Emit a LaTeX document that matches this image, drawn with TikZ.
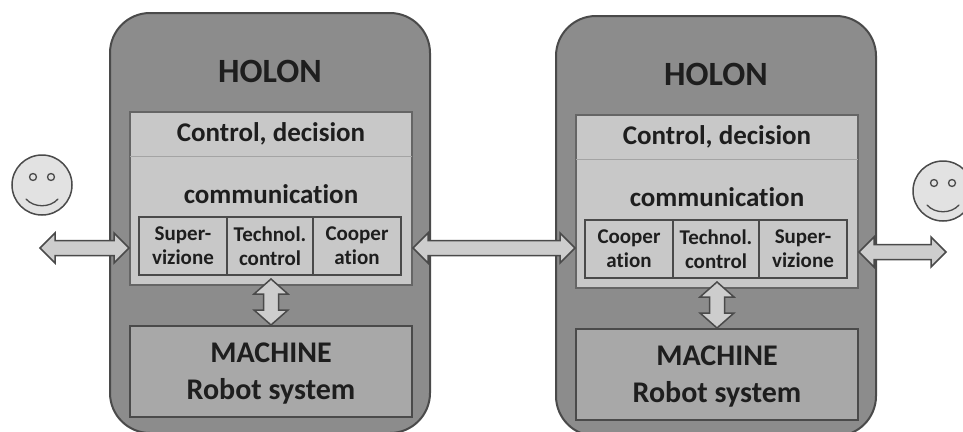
\documentclass[tikz,border=0pt]{standalone}
\usepackage{fontspec}
\setmainfont{Carlito}[Ligatures=CommonOff]
\usepackage{tikz}
\usetikzlibrary{calc}
\definecolor{edge}{HTML}{4A4A4A}
\definecolor{holongray}{HTML}{8C8C8C}
\definecolor{ctrlgray}{HTML}{C8C8C8}
\definecolor{machgray}{HTML}{A8A8A8}
\definecolor{arrowgray}{HTML}{CDCDCD}
\definecolor{facegray}{HTML}{E2E2E2}
\definecolor{divgray}{HTML}{A4A4A4}
\definecolor{ink}{HTML}{1E1E1E}
\tikzstyle{holon}=[rectangle,rounded corners=40pt,draw=edge,fill=holongray,line width=2pt,minimum width=320pt,minimum height=420pt,inner sep=0pt]
\tikzstyle{ctrl}=[rectangle,draw=edge!85,fill=ctrlgray,line width=2pt,minimum width=282pt,minimum height=173pt,inner sep=0pt]
\tikzstyle{band}=[rectangle,minimum width=282pt,minimum height=44pt,inner sep=0pt,font=\fontsize{27}{32}\selectfont\bfseries]
\tikzstyle{sub}=[rectangle,draw=edge,fill=ctrlgray,line width=1.6pt,minimum height=58pt,inner sep=0pt,align=center,font=\fontsize{21}{24}\selectfont\bfseries]
\tikzstyle{machine}=[rectangle,draw=edge,fill=machgray,line width=2pt,minimum width=282pt,minimum height=91pt,inner sep=0pt,align=center,text depth=0pt,font=\fontsize{30}{37}\selectfont\bfseries]
\tikzstyle{title}=[anchor=base,font=\fontsize{34}{40}\selectfont\bfseries]
\tikzstyle{face}=[circle,draw=edge,fill=facegray,line width=1.5pt,minimum size=60pt,inner sep=0pt]
\tikzset{every node/.style={text=ink},
  fat/.style={draw=edge,fill=arrowgray,line width=1.5pt,line join=miter,
    to path={let \p1=(\tikztostart), \p2=(\tikztotarget) in
      (\p1) -- ($(\p1)!15pt!(\p2)!#1!90:(\p2)$) -- ($(\p1)!15pt!(\p2)!7.5pt!90:(\p2)$)
      -- ($(\p2)!15pt!(\p1)!7.5pt!-90:(\p1)$) -- ($(\p2)!15pt!(\p1)!#1!-90:(\p1)$)
      -- (\p2) -- ($(\p2)!15pt!(\p1)!#1!90:(\p1)$) -- ($(\p2)!15pt!(\p1)!7.5pt!90:(\p1)$)
      -- ($(\p1)!15pt!(\p2)!7.5pt!-90:(\p2)$) -- ($(\p1)!15pt!(\p2)!#1!-90:(\p2)$) -- cycle}},
  fat/.default=15pt
}

\begin{document}
\begin{tikzpicture}[x=1pt,y=-1pt]
    \useasboundingbox (0,0) rectangle (963,431);
    % left holon
    \node[holon] at (270,223) (holonL) {};
    \node[title] at (270,82) (titleL) {HOLON};
    \node[ctrl] at (271,198.5) (ctrlL) {};
    \node[band] at (271,134) (decL) {Control, decision};
    \draw[divgray,line width=1pt] (decL.south west) -- (decL.south east);
    \node[band,anchor=base] at (271,203) (commL) {communication};
    \node[sub,minimum width=88pt] at (183,246) (supL) {Super-\\vizione};
    \node[sub,minimum width=86pt] at (270,246) (tecL) {Technol.\\control};
    \node[sub,minimum width=88pt] at (357,246) (cooL) {Cooper\\ation};
    \node[machine] at (271,371.5) (machL) {MACHINE\\Robot system};
    % right holon
    \node[holon] at (716,226) (holonR) {};
    \node[title] at (716,85) (titleR) {HOLON};
    \node[ctrl] at (717,201.5) (ctrlR) {};
    \node[band] at (717,137) (decR) {Control, decision};
    \draw[divgray,line width=1pt] (decR.south west) -- (decR.south east);
    \node[band,anchor=base] at (717,206) (commR) {communication};
    \node[sub,minimum width=88pt] at (629,249) (cooR) {Cooper\\ation};
    \node[sub,minimum width=86pt] at (716,249) (tecR) {Technol.\\control};
    \node[sub,minimum width=88pt] at (803,249) (supR) {Super-\\vizione};
    \node[machine] at (717,374.5) (machR) {MACHINE\\Robot system};
    % operators
    \node[face] at (42,185) (smileL) {};
    \node[face] at (943,191) (smileR) {};
    \foreach \s in {smileL,smileR}{
      \begin{scope}[shift={(\s.center)},draw=edge,line width=1.3pt]
        \draw[fill=facegray] (-9,-8) circle (3.5);
        \draw[fill=facegray] (9,-8) circle (3.5);
        \draw[line cap=round] (-16,14) .. controls (-8,23) and (8,23) .. (16,14);
      \end{scope}
    }
    % links
    \coordinate (farL) at (40,248);
    \coordinate (farR) at (946,252);
    \draw[fat] (farL) to (farL -| ctrlL.west);
    \draw[fat] (farL -| ctrlL.east) to (farL -| ctrlR.west);
    \draw[fat] (farR -| ctrlR.east) to (farR);
    \draw[fat=17pt] ($(ctrlL.south)+(0,-7)$) to (machL.north);
    \draw[fat=17pt] ($(ctrlR.south)+(0,-7)$) to (machR.north);
  \end{tikzpicture}
\end{document}
